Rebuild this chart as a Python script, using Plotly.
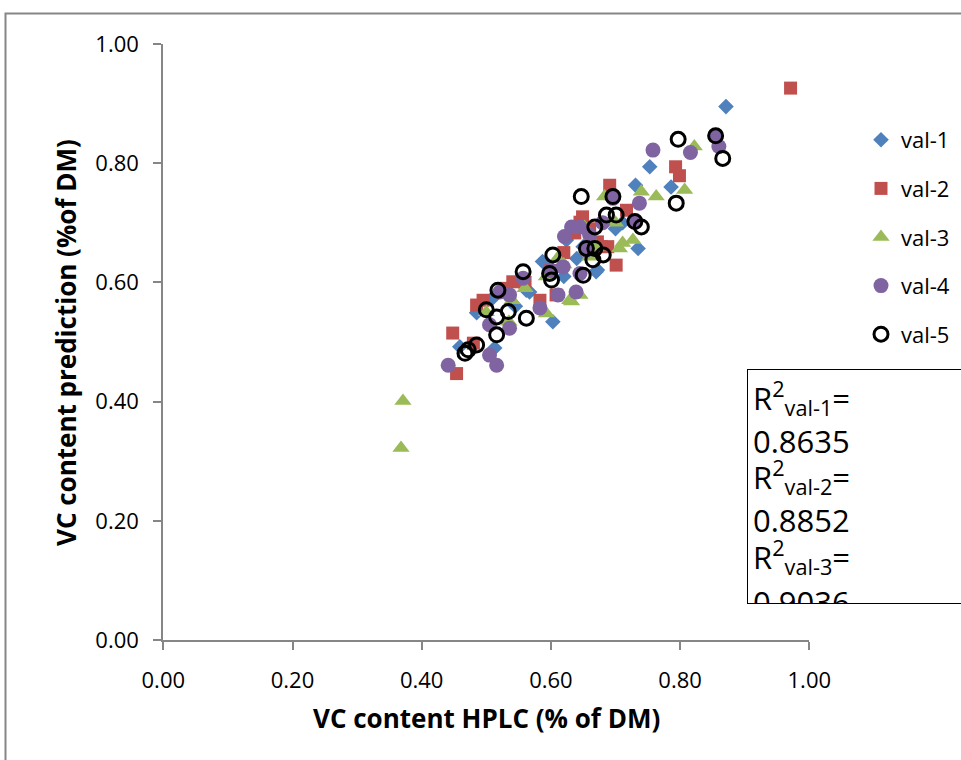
import plotly.graph_objects as go

# ---------------- data ----------------
series_names = ["val-1", "val-2", "val-3", "val-4", "val-5"]

val1_x = [0.871, 0.753, 0.786, 0.731, 0.735, 0.670, 0.603, 0.459, 0.513, 0.510, 0.485, 0.587, 0.567,
          0.593, 0.624, 0.711, 0.660, 0.672, 0.562, 0.640, 0.620, 0.700, 0.545, 0.600, 0.650]
val1_y = [0.895, 0.794, 0.760, 0.763, 0.657, 0.618, 0.534, 0.492, 0.490, 0.574, 0.549, 0.635, 0.584,
          0.632, 0.671, 0.700, 0.680, 0.621, 0.587, 0.640, 0.610, 0.690, 0.560, 0.620, 0.660]

val2_x = [0.971, 0.793, 0.799, 0.448, 0.454, 0.485, 0.480, 0.541, 0.495, 0.583, 0.608, 0.637, 0.678,
          0.701, 0.691, 0.717, 0.649, 0.688, 0.672, 0.645, 0.560, 0.620, 0.600, 0.530, 0.660]
val2_y = [0.926, 0.794, 0.779, 0.515, 0.447, 0.562, 0.498, 0.601, 0.570, 0.570, 0.579, 0.683, 0.660,
          0.629, 0.763, 0.721, 0.710, 0.660, 0.668, 0.701, 0.600, 0.650, 0.620, 0.590, 0.690]

val3_x = [0.371, 0.368, 0.822, 0.740, 0.763, 0.807, 0.683, 0.706, 0.727, 0.629, 0.645, 0.593, 0.593,
          0.652, 0.660, 0.535, 0.632, 0.711, 0.700, 0.620, 0.560, 0.610, 0.500, 0.540, 0.670]
val3_y = [0.401, 0.322, 0.828, 0.752, 0.744, 0.755, 0.744, 0.657, 0.671, 0.570, 0.579, 0.548, 0.610,
          0.693, 0.643, 0.534, 0.568, 0.666, 0.700, 0.630, 0.590, 0.640, 0.550, 0.570, 0.660]

val4_x = [0.441, 0.516, 0.505, 0.536, 0.758, 0.816, 0.855, 0.860, 0.737, 0.696, 0.730, 0.645, 0.655,
          0.645, 0.639, 0.611, 0.583, 0.521, 0.505, 0.619, 0.557, 0.632, 0.621, 0.536, 0.600, 0.680, 0.660]
val4_y = [0.461, 0.461, 0.478, 0.523, 0.822, 0.818, 0.847, 0.828, 0.733, 0.741, 0.702, 0.693, 0.654,
          0.615, 0.584, 0.579, 0.557, 0.584, 0.529, 0.626, 0.607, 0.693, 0.677, 0.579, 0.620, 0.700, 0.680]

val5_x = [0.797, 0.855, 0.866, 0.794, 0.647, 0.696, 0.686, 0.701, 0.668, 0.730, 0.740, 0.655, 0.668,
          0.681, 0.665, 0.650, 0.603, 0.557, 0.598, 0.601, 0.518, 0.500, 0.516, 0.534, 0.562, 0.516,
          0.485, 0.472, 0.467]
val5_y = [0.840, 0.846, 0.808, 0.733, 0.744, 0.744, 0.713, 0.713, 0.693, 0.702, 0.693, 0.657, 0.657,
          0.646, 0.638, 0.612, 0.646, 0.618, 0.615, 0.604, 0.587, 0.554, 0.542, 0.551, 0.540, 0.512,
          0.495, 0.487, 0.481]

r2_labels = ["val-1", "val-2", "val-3"]
r2_values = ["0.8635", "0.8852", "0.9036"]

x_title = "VC content HPLC (% of DM)"
y_title = "VC content prediction (%of DM)"

# ---------------- styling ----------------
W, H = 961, 760
FONT = "Open Sans"
AXIS_GRAY = "#868686"

def px_x(p):
    return p / W

def px_y(p):
    return (H - p) / H

styles = [
    dict(symbol="diamond", size=12, color="#4F81BD"),
    dict(symbol="square", size=13, color="#C0504D"),
    dict(symbol="triangle-up", size=15, color="#9BBB59"),
    dict(symbol="circle", size=15, color="#8064A2"),
    dict(symbol="circle-open", size=14, color="black", line=dict(width=3, color="black")),
]
xs = [val1_x, val2_x, val3_x, val4_x, val5_x]
ys = [val1_y, val2_y, val3_y, val4_y, val5_y]

fig = go.Figure()
for name, x, y, st in zip(series_names, xs, ys, styles):
    marker = dict(symbol=st["symbol"], size=st["size"], color=st["color"])
    if "line" in st:
        marker["line"] = st["line"]
    fig.add_trace(go.Scatter(x=x, y=y, mode="markers", name=name, marker=marker,
                             legendgroup=name, xaxis="x", yaxis="y", cliponaxis=False))

# R^2 box text (clipped by its own hidden axes)
box_lines = []
for lab, val in zip(r2_labels, r2_values):
    box_lines.append("R<sup>2</sup><sub>" + lab + "</sub>=")
    box_lines.append(val)
line_y = [402, 445, 481, 524, 561, 606]
fig.add_trace(go.Scatter(x=[753] * len(box_lines), y=line_y, text=box_lines, mode="text",
                         textposition="middle right", textfont=dict(family=FONT, size=31, color="black"),
                         showlegend=False, xaxis="x2", yaxis="y2", cliponaxis=True, hoverinfo="skip"))

axis_common = dict(range=[0, 1], dtick=0.2, tick0=0, tickformat=".2f", showline=True, linecolor=AXIS_GRAY,
                   linewidth=2, ticks="outside", ticklen=8, tickwidth=2, tickcolor=AXIS_GRAY,
                   showgrid=False, zeroline=False, automargin=False,
                   tickfont=dict(family=FONT, size=22, color="black"))

fig.update_layout(
    width=W, height=H,
    margin=dict(l=0, r=0, t=0, b=0),
    paper_bgcolor="white", plot_bgcolor="white",
    xaxis=dict(domain=[px_x(163.3), px_x(809.3)], anchor="y", ticklabelstandoff=12, **axis_common),
    yaxis=dict(domain=[px_y(640), px_y(44)], anchor="x", ticklabelstandoff=10, **axis_common),
    xaxis2=dict(domain=[px_x(748), 1], range=[748, 961], visible=False, anchor="y2", fixedrange=True),
    yaxis2=dict(domain=[px_y(603), px_y(370)], range=[603, 370], visible=False, anchor="x2", fixedrange=True),
    showlegend=True,
    legend=dict(x=px_x(861), y=px_y(119), xanchor="left", yanchor="top",
                font=dict(family=FONT, size=22, color="black"), tracegroupgap=17,
                bgcolor="rgba(0,0,0,0)", itemsizing="trace"),
    shapes=[
        dict(type="rect", xref="paper", yref="paper", x0=px_x(5.5), x1=px_x(1000), y0=px_y(800), y1=px_y(13.5),
             line=dict(color=AXIS_GRAY, width=2), fillcolor="rgba(0,0,0,0)", layer="below"),
        dict(type="rect", xref="paper", yref="paper", x0=px_x(748), x1=px_x(1000), y0=px_y(603), y1=px_y(370),
             line=dict(color="black", width=2), fillcolor="white", layer="below"),
    ],
    annotations=[
        dict(text="<b>" + x_title + "</b>", xref="paper", yref="paper", x=px_x(486), y=px_y(718),
             showarrow=False, xanchor="center", yanchor="middle",
             font=dict(family=FONT, size=26, color="black")),
        dict(text="<b>" + y_title + "</b>", xref="paper", yref="paper", x=px_x(66), y=px_y(343),
             showarrow=False, xanchor="center", yanchor="middle", textangle=-90,
             font=dict(family=FONT, size=26, color="black")),
    ],
)

fig.write_html("out.html")
